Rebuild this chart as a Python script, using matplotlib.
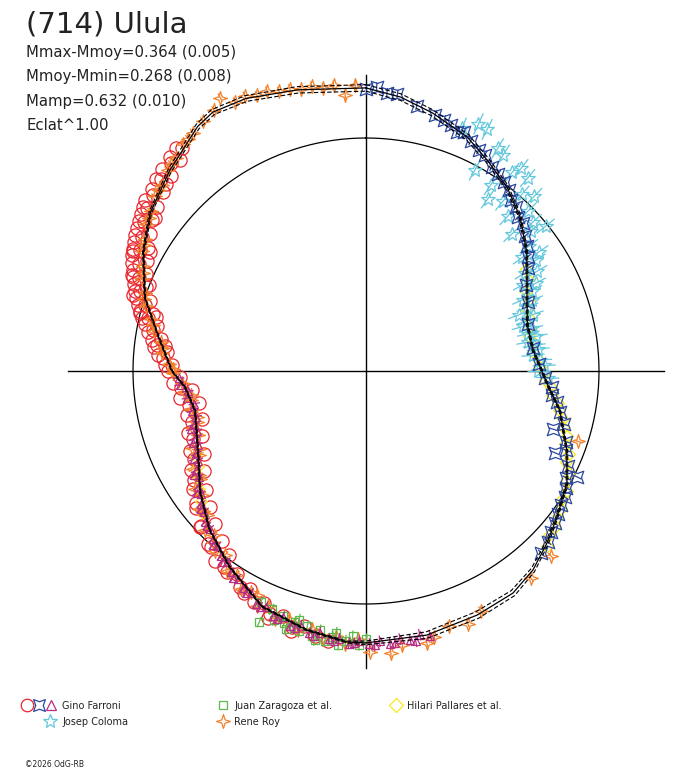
import numpy as np
import matplotlib.pyplot as plt
from matplotlib.path import Path
from matplotlib.transforms import Affine2D
from matplotlib.collections import LineCollection

# rotation phase (0..1, clockwise from top) and relative flux (1 = mean)
fit_phase = [0.000, 0.020, 0.040, 0.065, 0.083, 0.104, 0.125, 0.149, 0.168, 0.184,
             0.206, 0.230, 0.250, 0.261, 0.282, 0.310, 0.331, 0.354, 0.371, 0.389,
             0.407, 0.432, 0.464, 0.500, 0.511, 0.536, 0.566, 0.597, 0.624, 0.650,
             0.680, 0.714, 0.736, 0.750, 0.779, 0.801, 0.828, 0.851, 0.877, 0.904,
             0.915, 0.934, 0.962, 1.000]
fit_flux = [1.215, 1.185, 1.144, 1.094, 1.044, 0.995, 0.935, 0.857, 0.794, 0.755,
            0.720, 0.722, 0.755, 0.779, 0.849, 0.927, 0.988, 1.032, 1.072, 1.115,
            1.143, 1.151, 1.163, 1.167, 1.166, 1.140, 1.105, 1.024, 0.956, 0.880,
            0.797, 0.753, 0.780, 0.833, 0.912, 1.000, 1.083, 1.149, 1.205, 1.274,
            1.291, 1.278, 1.242, 1.215]
fit_sigma = [0.014, 0.014, 0.013, 0.012, 0.010, 0.008, 0.006, 0.005, 0.004, 0.004,
             0.004, 0.004, 0.004, 0.004, 0.004, 0.004, 0.004, 0.005, 0.007, 0.010,
             0.013, 0.015, 0.014, 0.008, 0.004, 0.003, 0.003, 0.003, 0.003, 0.003,
             0.003, 0.003, 0.003, 0.003, 0.003, 0.003, 0.004, 0.006, 0.009, 0.011,
             0.012, 0.013, 0.014, 0.014]

farroni_a_phase = [0.522, 0.530, 0.538, 0.545, 0.552, 0.560, 0.566, 0.572, 0.578, 0.584,
                   0.590, 0.596, 0.602, 0.607, 0.612, 0.618, 0.624, 0.630, 0.636, 0.642,
                   0.648, 0.655, 0.662, 0.668, 0.675, 0.682, 0.690, 0.697, 0.705, 0.712,
                   0.720, 0.727, 0.733, 0.740, 0.745, 0.750, 0.755, 0.760, 0.765, 0.770,
                   0.775, 0.780, 0.784, 0.788, 0.792, 0.796, 0.800, 0.804, 0.808, 0.812,
                   0.816, 0.820, 0.824, 0.828, 0.832, 0.836, 0.840, 0.844, 0.848, 0.852,
                   0.856, 0.860, 0.865, 0.870, 0.875, 0.880, 0.885, 0.890, 0.812, 0.826,
                   0.800, 0.790,
                   0.755, 0.762, 0.768, 0.773, 0.778, 0.783, 0.787, 0.791, 0.795, 0.799,
                   0.803, 0.807, 0.811, 0.815, 0.819, 0.823, 0.827, 0.831, 0.835, 0.839,
                   0.843, 0.847, 0.851, 0.855, 0.862, 0.868, 0.874, 0.882, 0.888,
                   0.770, 0.790, 0.810, 0.830, 0.850, 0.870,
                   0.600, 0.615, 0.630, 0.645, 0.660, 0.675, 0.690, 0.705, 0.720, 0.735,
                   0.580, 0.560, 0.545]
farroni_a_flux = [1.170, 1.160, 1.125, 1.145, 1.110, 1.120, 1.090, 1.100, 1.060, 1.075,
                  1.030, 1.050, 0.985, 1.040, 0.955, 1.005, 0.925, 0.975, 0.890, 0.940,
                  0.855, 0.900, 0.815, 0.865, 0.780, 0.830, 0.755, 0.810, 0.735, 0.790,
                  0.730, 0.805, 0.750, 0.830, 0.800, 0.850, 0.835, 0.875, 0.860, 0.905,
                  0.890, 0.930, 0.920, 0.965, 0.945, 0.990, 0.975, 1.030, 1.010, 1.055,
                  1.030, 1.075, 1.050, 1.100, 1.075, 1.120, 1.100, 1.145, 1.125, 1.170,
                  1.140, 1.185, 1.160, 1.205, 1.185, 1.225, 1.205, 1.240, 1.085, 1.125,
                  1.050, 1.000,
                  0.865, 0.895, 0.915, 0.930, 0.950, 0.970, 0.990, 1.005, 1.020, 1.035,
                  1.050, 1.065, 1.080, 1.090, 1.105, 1.120, 1.130, 1.140, 1.150, 1.160,
                  1.170, 1.180, 1.190, 1.200, 1.205, 1.220, 1.232, 1.248, 1.258,
                  0.870, 0.930, 1.000, 1.060, 1.120, 1.175,
                  1.040, 1.005, 0.970, 0.925, 0.875, 0.828, 0.798, 0.778, 0.772, 0.798,
                  1.085, 1.140, 1.160]

farroni_b_phase = [0.000, 0.006, 0.012, 0.018, 0.030, 0.042, 0.048, 0.053, 0.058, 0.062,
                   0.068, 0.075, 0.080, 0.088, 0.094, 0.100, 0.106, 0.112, 0.118, 0.124,
                   0.130, 0.138, 0.145, 0.152, 0.160, 0.172, 0.186, 0.205, 0.228, 0.244,
                   0.256, 0.264, 0.270, 0.276, 0.283, 0.292, 0.298, 0.304, 0.310, 0.315,
                   0.320, 0.324, 0.328, 0.334, 0.340, 0.346, 0.352, 0.358, 0.364, 0.370,
                   0.378]
farroni_b_flux = [1.210, 1.220, 1.198, 1.195, 1.160, 1.140, 1.130, 1.115, 1.100, 1.110,
                  1.085, 1.065, 1.060, 1.030, 1.020, 1.005, 0.990, 0.965, 0.955, 0.930,
                  0.925, 0.895, 0.875, 0.850, 0.825, 0.780, 0.755, 0.725, 0.725, 0.745,
                  0.770, 0.800, 0.805, 0.830, 0.850, 0.880, 0.841, 0.910, 0.925, 0.883,
                  0.960, 1.015, 0.975, 0.995, 1.010, 1.015, 1.030, 1.040, 1.055, 1.070,
                  1.085]

farroni_c_phase = [0.462, 0.468, 0.474, 0.480, 0.486, 0.492, 0.498, 0.504, 0.510, 0.516,
                   0.522, 0.528, 0.534, 0.540, 0.546, 0.552, 0.558, 0.564, 0.570, 0.576,
                   0.582, 0.588, 0.594, 0.600, 0.606, 0.612, 0.618, 0.624, 0.630, 0.636,
                   0.642, 0.648, 0.654, 0.660, 0.666, 0.672, 0.678, 0.684, 0.690, 0.696,
                   0.702, 0.708, 0.714, 0.720, 0.726, 0.732, 0.738, 0.744,
                   0.471, 0.483, 0.495, 0.507, 0.519, 0.531, 0.543, 0.555, 0.567, 0.579,
                   0.591, 0.603, 0.615, 0.627, 0.639, 0.651, 0.663, 0.675, 0.687, 0.699]
farroni_c_flux = [1.170, 1.155, 1.172, 1.160, 1.175, 1.162, 1.172, 1.160, 1.172, 1.155,
                  1.162, 1.140, 1.150, 1.128, 1.140, 1.115, 1.125, 1.100, 1.105, 1.075,
                  1.070, 1.050, 1.040, 1.015, 1.010, 0.985, 0.975, 0.955, 0.945, 0.920,
                  0.910, 0.885, 0.875, 0.850, 0.845, 0.818, 0.810, 0.790, 0.790, 0.770,
                  0.775, 0.755, 0.765, 0.750, 0.775, 0.770, 0.800, 0.805,
                  1.180, 1.172, 1.178, 1.170, 1.168, 1.158, 1.145, 1.132, 1.112, 1.082,
                  1.055, 1.025, 0.995, 0.955, 0.925, 0.895, 0.862, 0.828, 0.805, 0.790]

coloma_phase = [0.060, 0.068, 0.074, 0.079, 0.085, 0.090, 0.094, 0.098, 0.101, 0.104,
                0.108, 0.111, 0.115, 0.118, 0.122, 0.126, 0.130, 0.134, 0.138, 0.142,
                0.146, 0.150, 0.154, 0.158, 0.162, 0.166, 0.170, 0.174, 0.178, 0.182,
                0.186, 0.190, 0.194, 0.198, 0.202, 0.206, 0.210, 0.214, 0.218, 0.222,
                0.226, 0.230, 0.235, 0.240, 0.245, 0.250, 0.256]
coloma_flux = [1.120, 1.165, 1.160, 0.980, 1.110, 1.100, 0.960, 0.905, 1.060, 1.095,
               0.935, 1.080, 1.010, 0.900, 1.040, 0.980, 0.860, 0.960, 0.930, 0.990,
               0.880, 0.830, 0.900, 0.870, 0.800, 0.850, 0.770, 0.820, 0.790, 0.740,
               0.775, 0.745, 0.700, 0.755, 0.725, 0.700, 0.735, 0.715, 0.745, 0.705,
               0.730, 0.745, 0.720, 0.750, 0.765, 0.740, 0.780]

zaragoza_phase = [0.500, 0.504, 0.508, 0.512, 0.516, 0.520, 0.524, 0.528, 0.532, 0.536,
                  0.540, 0.544, 0.548, 0.552, 0.556, 0.560, 0.564, 0.568, 0.530, 0.518,
                  0.542, 0.550]
zaragoza_flux = [1.150, 1.175, 1.140, 1.160, 1.180, 1.150, 1.170, 1.130, 1.160, 1.125,
                 1.150, 1.120, 1.160, 1.110, 1.140, 1.100, 1.170, 1.090, 1.175, 1.130,
                 1.105, 1.135]

roy_phase = [0.301, 0.375, 0.393, 0.429, 0.439, 0.450, 0.460, 0.465, 0.479, 0.486,
             0.498, 0.505, 0.512, 0.518, 0.526, 0.533, 0.541, 0.548, 0.556, 0.563,
             0.569, 0.576, 0.583, 0.590, 0.597, 0.604, 0.611, 0.619, 0.626, 0.633,
             0.640, 0.647, 0.654, 0.661, 0.668, 0.676, 0.684, 0.692, 0.700, 0.708,
             0.716, 0.724, 0.732, 0.740, 0.748, 0.756, 0.764, 0.772, 0.780, 0.788,
             0.796, 0.804, 0.812, 0.820, 0.828, 0.836, 0.844, 0.852, 0.860, 0.868,
             0.876, 0.884, 0.892, 0.900, 0.908, 0.916, 0.922, 0.928, 0.934, 0.940,
             0.946, 0.952, 0.958, 0.964, 0.970, 0.976, 0.982, 0.988, 0.994,
             0.572, 0.594, 0.616, 0.637, 0.658, 0.680, 0.703, 0.728, 0.752, 0.768,
             0.784, 0.800, 0.816, 0.832, 0.848, 0.864, 0.880, 0.896]
roy_flux = [0.960, 1.123, 1.136, 1.140, 1.170, 1.150, 1.179, 1.196, 1.187, 1.215,
            1.206, 1.150, 1.175, 1.145, 1.165, 1.130, 1.150, 1.115, 1.135, 1.095,
            1.110, 1.070, 1.080, 1.035, 1.045, 0.995, 1.010, 0.960, 0.970, 0.920,
            0.930, 0.880, 0.890, 0.845, 0.855, 0.800, 0.815, 0.770, 0.785, 0.750,
            0.770, 0.760, 0.785, 0.790, 0.830, 0.845, 0.880, 0.890, 0.925, 0.950,
            0.985, 1.005, 1.040, 1.060, 1.090, 1.105, 1.135, 1.150, 1.175, 1.185,
            1.210, 1.225, 1.250, 1.265, 1.280, 1.295, 1.330, 1.285, 1.290, 1.272,
            1.275, 1.258, 1.255, 1.240, 1.245, 1.230, 1.235, 1.188, 1.228,
            1.070, 1.045, 0.985, 0.920, 0.850, 0.790, 0.758, 0.760, 0.830, 0.875,
            0.935, 1.000, 1.045, 1.095, 1.140, 1.180, 1.220, 1.255]

pallares_phase = [0.160, 0.168, 0.176, 0.184, 0.192, 0.200, 0.208, 0.216, 0.224, 0.232,
                  0.240, 0.246, 0.252, 0.258, 0.264, 0.270, 0.276, 0.282, 0.288, 0.294,
                  0.300, 0.306, 0.312, 0.318, 0.324, 0.330, 0.336, 0.342, 0.348, 0.354,
                  0.360, 0.366, 0.372, 0.636, 0.644, 0.652, 0.660, 0.668, 0.676]
pallares_flux = [0.815, 0.800, 0.770, 0.765, 0.740, 0.735, 0.725, 0.715, 0.730, 0.720,
                 0.745, 0.745, 0.765, 0.770, 0.795, 0.805, 0.835, 0.845, 0.870, 0.880,
                 0.905, 0.910, 0.940, 0.945, 0.975, 0.980, 1.005, 1.005, 1.025, 1.030,
                 1.050, 1.055, 1.080, 0.925, 0.900, 0.880, 0.855, 0.830, 0.815]

title = "(714) Ulula"
info_lines = ["Mmax-Mmoy=0.364 (0.005)", "Mmoy-Mmin=0.268 (0.008)",
              "Mamp=0.632 (0.010)", "Eclat^1.00"]

W, H = 688, 768
CX, CY, R = 366, 371, 233


def polar_xy(ph, r):
    a = 2 * np.pi * np.asarray(ph)
    r = np.asarray(r)
    return r * np.sin(a), r * np.cos(a)


star4 = Path.unit_regular_star(4, 0.33)
quad4 = Affine2D().rotate_deg(45).transform_path(Path.unit_regular_star(4, 0.45))

red = '#e8262e'
blue = '#2d47a0'
magenta = '#b52d84'
cyan = '#64c8dc'
green = '#5cb848'
orange = '#f4822c'
yellow = '#f6e81a'

fig = plt.figure(figsize=(W / 100, H / 100), dpi=100)
ax = fig.add_axes([0, 0, 1, 1])
ax.set_xlim(-CX / R, (W - CX) / R)
ax.set_ylim(-(H - CY) / R, CY / R)
ax.axis('off')

# axes cross and mean-flux circle
ax.plot([-1.28, 1.28], [0, 0], color='black', lw=1.0)
ax.plot([0, 0], [-1.275, 1.27], color='black', lw=1.0)
t = np.linspace(0, 1, 361)
ax.plot(*polar_xy(t, np.ones_like(t)), color='black', lw=0.9)

series = [
    (farroni_a_phase, farroni_a_flux, red, 'o', 9.5, 0.0),
    (pallares_phase, pallares_flux, yellow, 'D', 6.5, 0.0),
    (roy_phase, roy_flux, orange, star4, 10, 0.02),
    (zaragoza_phase, zaragoza_flux, green, 's', 5.5, 0.025),
    (farroni_c_phase, farroni_c_flux, magenta, '^', 6, 0.025),
    (coloma_phase, coloma_flux, cyan, '*', 10, 0.05),
    (farroni_b_phase, farroni_b_flux, blue, quad4, 9, 0.02),
]

for ph, fl, col, mk, ms, err in series:
    ph = np.array(ph)
    fl = np.array(fl)
    if err > 0:
        x0, y0 = polar_xy(ph, fl - err)
        x1, y1 = polar_xy(ph, fl + err)
        segs = np.stack([np.column_stack([x0, y0]), np.column_stack([x1, y1])], axis=1)
        ax.add_collection(LineCollection(segs, colors=col, linewidths=0.9))
    x, y = polar_xy(ph, fl)
    ax.plot(x, y, ls='none', marker=mk, ms=ms, mfc='none', mec=col, mew=0.9)

# fitted curve with its uncertainty envelope
fp = np.array(fit_phase)
ff = np.array(fit_flux)
fs = np.array(fit_sigma)
ax.plot(*polar_xy(fp, ff), color='black', lw=0.9)
ax.plot(*polar_xy(fp, ff + fs), color='black', lw=0.8, ls=(0, (4, 2)))
ax.plot(*polar_xy(fp, ff - fs), color='black', lw=0.8, ls=(0, (4, 2)))

# text and legend in pixel coordinates
pax = fig.add_axes([0, 0, 1, 1])
pax.set_xlim(0, W)
pax.set_ylim(H, 0)
pax.axis('off')

txt = '#222222'
pax.text(26, 32, title, fontsize=21, color=txt, va='baseline')
for i, line in enumerate(info_lines):
    pax.text(26, 57 + 24.5 * i, line, fontsize=10.7, color=txt, va='baseline')

legend_items = [
    ([(27, 705, red, 'o', 9), (39, 705, blue, quad4, 8.5), (51, 705, magenta, '^', 6.5)],
     62, 709, "Gino Farroni"),
    ([(50, 721, cyan, '*', 10)], 62, 725, "Josep Coloma"),
    ([(223, 705, green, 's', 6)], 234, 709, "Juan Zaragoza et al."),
    ([(223, 721, orange, star4, 10)], 234, 725, "Rene Roy"),
    ([(396, 705, yellow, 'D', 7)], 407, 709, "Hilari Pallares et al."),
]
for marks, tx, ty, label in legend_items:
    for mx, my, col, mk, ms in marks:
        pax.plot(mx, my, ls='none', marker=mk, ms=ms, mfc='none', mec=col, mew=0.9)
    pax.text(tx, ty, label, fontsize=7, color=txt, va='baseline')

pax.text(25, 767, "\u00a92026 OdG-RB", fontsize=5.5, color=txt, va='baseline')

fig.savefig('out.png', dpi=100)
